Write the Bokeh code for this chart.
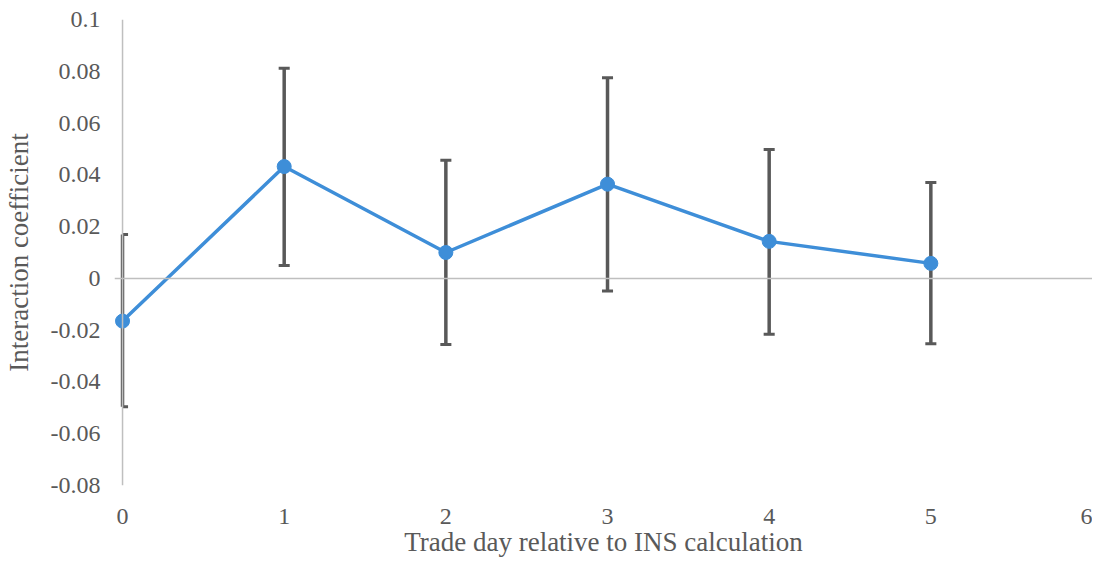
import numpy as np
from bokeh.plotting import figure
from bokeh.models import Range1d, FixedTicker, Span, ColumnDataSource
from bokeh.embed import file_html
from bokeh.resources import INLINE

# ---- data ----
days = [0, 1, 2, 3, 4, 5]
coef = [-0.0165, 0.0432, 0.0100, 0.0364, 0.0143, 0.0058]
upper = [0.0170, 0.0812, 0.0456, 0.0775, 0.0498, 0.0370]
lower = [-0.0496, 0.0050, -0.0255, -0.0049, -0.0216, -0.0252]
x_ticks = [0, 1, 2, 3, 4, 5, 6]
y_ticks = [-0.08, -0.06, -0.04, -0.02, 0, 0.02, 0.04, 0.06, 0.08, 0.1]
y_tick_labels = ["-0.08", "-0.06", "-0.04", "-0.02", "0", "0.02", "0.04", "0.06", "0.08", "0.1"]
x_title = "Trade day relative to INS calculation"
y_title = "Interaction coefficient"

FONT = "Liberation Serif"
TXT = "#595959"
AX = "#BFBFBF"
BLUE = "#3E8ED8"
ERR = "#595959"

px_per_unit = 161.0
x_start = -8 / px_per_unit

p = figure(width=1092, height=559, output_backend="svg", toolbar_location=None,
           x_range=Range1d(x_start, 6), y_range=Range1d(-0.08, 0.1),
           min_border_left=112, min_border_right=0, min_border_top=19, min_border_bottom=74)
p.outline_line_color = None
p.grid.visible = False
p.background_fill_color = "white"

# axes
p.xaxis.ticker = FixedTicker(ticks=x_ticks)
p.yaxis.ticker = FixedTicker(ticks=y_ticks)
p.yaxis.major_label_overrides = {t: l for t, l in zip(y_ticks, y_tick_labels)}
for ax in (p.xaxis[0], p.yaxis[0]):
    ax.axis_line_color = None
    ax.major_tick_line_color = None
    ax.minor_tick_line_color = None
    ax.major_tick_out = 0
    ax.major_tick_in = 0
    ax.major_label_text_font = FONT
    ax.major_label_text_font_size = "24px"
    ax.major_label_text_color = TXT
    ax.axis_label_text_font = FONT
    ax.axis_label_text_font_size = "27px"
    ax.axis_label_text_font_style = "normal"
    ax.axis_label_text_color = TXT
p.xaxis.axis_label = x_title
p.yaxis.axis_label = y_title
p.xaxis.major_label_standoff = 23
p.xaxis.axis_label_standoff = 0
p.yaxis.major_label_standoff = 14
p.yaxis.axis_label_standoff = 14

# axis lines
p.add_layout(Span(location=0, dimension="height", line_color=AX, line_width=1.5))
p.add_layout(Span(location=0, dimension="width", line_color=AX, line_width=1.5))

src = ColumnDataSource(dict(x=days, y=coef, hi=upper, lo=lower))

# error bars
p.segment(x0="x", y0="lo", x1="x", y1="hi", source=src, line_color=ERR, line_width=3.5)
hw = 5.5 / px_per_unit
cap_x0 = np.maximum(np.array(days) - hw, 0)
cap_x1 = np.array(days) + hw
p.segment(x0=cap_x0, y0=upper, x1=cap_x1, y1=upper, line_color=ERR, line_width=3)
p.segment(x0=cap_x0, y0=lower, x1=cap_x1, y1=lower, line_color=ERR, line_width=3)

# line + markers
p.line("x", "y", source=src, line_color=BLUE, line_width=3.5)
p.scatter("x", "y", source=src, size=14, fill_color=BLUE, line_color=BLUE)

open("out.html", "w").write(file_html(p, INLINE))
